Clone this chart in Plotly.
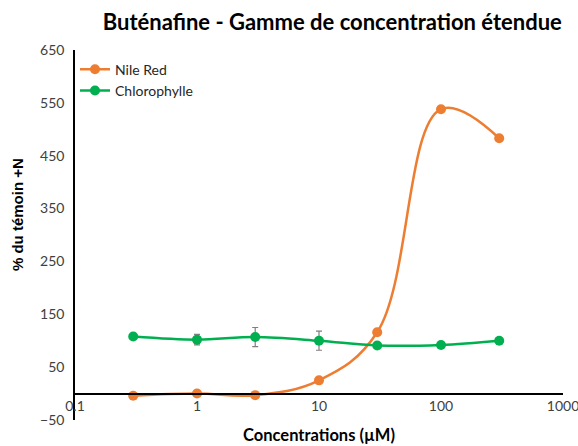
import plotly.graph_objects as go

# Concentrations tested (µM)
concentrations = [0.3, 1, 3, 10, 30, 100, 300]

# Response as % of the +N control
nile_red = [-4, 0, -3, 25, 116, 538, 483]
chlorophylle = [108, 102, 107, 100, 91, 92, 100]
chlorophylle_err = [2, 10, 18, 18, 3, 3, 4]

x_ticks = [0.1, 1, 10, 100, 1000]
x_tick_labels = ["0.1", "1", "10", "100", "1000"]
y_ticks = [-50, 50, 150, 250, 350, 450, 550, 650]

ORANGE = "#ED7D31"
GREEN = "#00B050"
FONT = "Lato, 'Open Sans', sans-serif"

fig = go.Figure()

fig.add_trace(go.Scatter(
    x=concentrations, y=nile_red, name="Nile Red",
    mode="lines+markers",
    line=dict(color=ORANGE, width=2.5, shape="spline", smoothing=1.1),
    marker=dict(color=ORANGE, size=10),
))

fig.add_trace(go.Scatter(
    x=concentrations, y=chlorophylle, name="Chlorophylle",
    mode="lines+markers",
    line=dict(color=GREEN, width=2.5, shape="spline", smoothing=1.0),
    marker=dict(color=GREEN, size=10),
    error_y=dict(type="data", array=chlorophylle_err, visible=True,
                 color="#7F7F7F", thickness=1.2, width=3),
))

y_min, y_max = -50, 650
zero_pos = (0 - y_min) / (y_max - y_min)

fig.update_layout(
    width=578, height=446,
    margin=dict(l=75, r=15, t=50, b=26, autoexpand=False),
    paper_bgcolor="white", plot_bgcolor="white",
    font=dict(family=FONT, size=14, color="#404040"),
    title=dict(text="<b>Buténafine - Gamme de concentration étendue</b>",
               x=0.575, xanchor="center", y=0.95, yanchor="middle",
               font=dict(family=FONT, size=22, color="#000000")),
    showlegend=True,
    legend=dict(x=0.0, y=0.99, xanchor="left", yanchor="top",
                bgcolor="rgba(0,0,0,0)", font=dict(size=14, color="#262626"),
                itemwidth=30, tracegroupgap=2),
    xaxis=dict(
        type="log", range=[-1, 3],
        tickvals=x_ticks, ticktext=x_tick_labels,
        showgrid=False, zeroline=False,
        showline=True, linecolor="#000000", linewidth=1.5,
        anchor="free", position=zero_pos,
        ticks="", ticklabeloverflow="allow", automargin=False,
        tickfont=dict(size=14, color="#404040"),
    ),
    yaxis=dict(
        range=[y_min, y_max], tickvals=y_ticks,
        showgrid=False, zeroline=False,
        showline=True, linecolor="#000000", linewidth=1.5,
        ticks="", ticklabelstandoff=6, automargin=False,
        tickfont=dict(size=14, color="#404040"),
    ),
    annotations=[
        dict(text="<b>Concentrations (µM)</b>", xref="paper", yref="paper",
             x=0.5, y=-0.04, xanchor="center", yanchor="middle",
             showarrow=False, font=dict(family=FONT, size=16.5, color="#000000")),
        dict(text="<b>% du témoin +N</b>", xref="paper", yref="paper",
             x=-0.118, y=0.555, xanchor="center", yanchor="middle", textangle=-90,
             showarrow=False,
             font=dict(family="'Liberation Sans', Arial, sans-serif", size=15,
                       color="#000000")),
    ],
)

fig.write_html("out.html")
